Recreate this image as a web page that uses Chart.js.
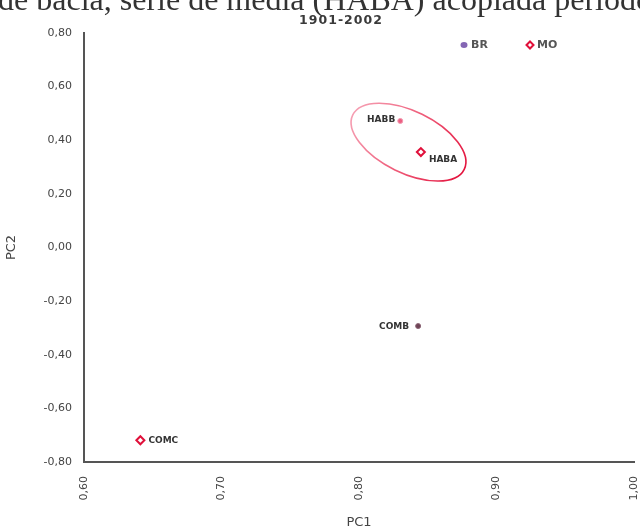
<!DOCTYPE html>
<html>
<head>
<meta charset="utf-8">
<script src="https://cdn.jsdelivr.net/npm/chart.js@4"></script>
<style>
  html, body { margin: 0; padding: 0; background: #fff; }
  #wrap { width: 640px; height: 531px; }
</style>
</head>
<body>
<div id="wrap"><canvas id="pcaChart" width="640" height="531"></canvas></div>
<script>
// DADOS
const brNames = ["HABB", "COMB"];
const brPC1 = [0.830, 0.843];
const brPC2 = [0.472, -0.293];

const moNames = ["HABA", "COMC"];
const moPC1 = [0.845, 0.641];
const moPC2 = [0.356, -0.719];

const xTicks = [0.60, 0.70, 0.80, 0.90, 1.00];
const yTicks = [-0.80, -0.60, -0.40, -0.20, 0.00, 0.20, 0.40, 0.60, 0.80];

// elipse em torno do grupo HAB (centro em unidades dos eixos)
const ellipseCenter = [0.836, 0.393];

const fmt = v => Number(v).toFixed(2).replace(".", ",");

function toPoints(xs, ys) {
  return xs.map((x, i) => ({ x: x, y: ys[i] }));
}

// rótulos, legenda, elipse e títulos
const extras = {
  id: "extras",
  afterDatasetsDraw(chart) {
    const ctx = chart.ctx;
    const sx = chart.scales.x, sy = chart.scales.y;

    // elipse
    const cx = sx.getPixelForValue(ellipseCenter[0]);
    const cy = sy.getPixelForValue(ellipseCenter[1]);
    const g = ctx.createLinearGradient(cx - 60, cy - 30, cx + 55, cy + 30);
    g.addColorStop(0, "#f6a3b6");
    g.addColorStop(0.55, "#ee5876");
    g.addColorStop(1, "#e3133d");
    ctx.save();
    ctx.strokeStyle = g;
    ctx.lineWidth = 1.6;
    ctx.beginPath();
    ctx.ellipse(cx, cy, 62, 31, 26 * Math.PI / 180, 0, Math.PI * 2);
    ctx.stroke();
    ctx.restore();

    // rótulos dos pontos
    ctx.save();
    ctx.font = "bold 9px 'DejaVu Sans'";
    ctx.fillStyle = "#333";
    ctx.textBaseline = "middle";
    const lab = (names, meta, offs) => {
      meta.data.forEach((p, i) => {
        const o = offs[i];
        ctx.textAlign = o[0] < 0 ? "right" : "left";
        ctx.fillText(names[i], p.x + o[0], p.y + o[1]);
      });
    };
    lab(brNames, chart.getDatasetMeta(0), [[-5, -1], [-9, 1]]);
    lab(moNames, chart.getDatasetMeta(1), [[8, 8], [8, 0]]);
    ctx.restore();

    // legenda
    const ly = chart.chartArea.top + 12;
    ctx.save();
    ctx.font = "bold 11px 'DejaVu Sans'";
    ctx.textBaseline = "middle";
    ctx.textAlign = "left";
    ctx.fillStyle = "#8466b4";
    ctx.beginPath();
    ctx.ellipse(464, ly, 3.5, 3, 0, 0, Math.PI * 2);
    ctx.fill();
    ctx.fillStyle = "#555";
    ctx.fillText("BR", 471, ly);
    ctx.strokeStyle = "#e0103a";
    ctx.lineWidth = 2;
    ctx.beginPath();
    ctx.moveTo(530, ly - 3.5); ctx.lineTo(533.5, ly); ctx.lineTo(530, ly + 3.5); ctx.lineTo(526.5, ly);
    ctx.closePath();
    ctx.stroke();
    ctx.fillText("MO", 537, ly);
    ctx.restore();

    // títulos
    ctx.save();
    ctx.textAlign = "center";
    ctx.fillStyle = "#333";
    ctx.font = "32px 'Liberation Serif'";
    ctx.textBaseline = "alphabetic";
    ctx.fillText("de bacia, série de média (HABA) acoplada período", 325, 10);
    ctx.font = "bold 12.5px 'DejaVu Sans'";
    ctx.letterSpacing = "1px";
    ctx.fillStyle = "#3a3a3a";
    ctx.textBaseline = "middle";
    ctx.fillText("1901-2002", 341, 20.5);
    ctx.restore();
  }
};

new Chart(document.getElementById("pcaChart"), {
  type: "scatter",
  data: {
    datasets: [{
      label: "BR",
      data: toPoints(brPC1, brPC2),
      pointStyle: "circle",
      pointRadius: 2.5,
      backgroundColor: ["#ec5f82", "#6e4456"],
      borderColor: ["#f29ab0", "#8a6474"],
      borderWidth: 1
    }, {
      label: "MO",
      data: toPoints(moPC1, moPC2),
      pointStyle: "rectRot",
      pointRadius: 4,
      backgroundColor: "#fff",
      borderColor: "#e0103a",
      borderWidth: 2
    }]
  },
  options: {
    responsive: false,
    animation: false,
    layout: { padding: { top: 33, right: 5, left: 0, bottom: 0 } },
    plugins: {
      legend: { display: false },
      tooltip: { enabled: false }
    },
    scales: {
      x: {
        type: "linear",
        min: 0.6,
        max: 1.0,
        afterBuildTicks: s => { s.ticks = xTicks.map(v => ({ value: v })); },
        afterFit: s => { s.height = 69; s.paddingLeft = 0; s.paddingRight = 0; },
        grid: { display: false, drawTicks: false },
        border: { display: true, color: "#555", width: 2 },
        ticks: {
          minRotation: 90,
          maxRotation: 90,
          padding: 14,
          color: "#444",
          font: { family: "'DejaVu Sans'", size: 11 },
          callback: v => fmt(v)
        },
        title: {
          display: true,
          text: "PC1",
          color: "#444",
          font: { family: "'DejaVu Sans'", size: 13 },
          padding: { top: 0, bottom: 1 }
        }
      },
      y: {
        type: "linear",
        min: -0.8,
        max: 0.8,
        afterBuildTicks: s => { s.ticks = yTicks.map(v => ({ value: v })); },
        afterFit: s => { s.width = 84; s.paddingTop = 0; s.paddingBottom = 0; },
        grid: { display: false, drawTicks: false },
        border: { display: true, color: "#555", width: 2 },
        ticks: {
          padding: 12,
          color: "#444",
          font: { family: "'DejaVu Sans'", size: 11 },
          callback: v => fmt(v)
        },
        title: {
          display: true,
          text: "PC2",
          color: "#444",
          font: { family: "'DejaVu Sans'", size: 13 },
          padding: { top: 4, bottom: 0 }
        }
      }
    }
  },
  plugins: [extras]
});
</script>
</body>
</html>
